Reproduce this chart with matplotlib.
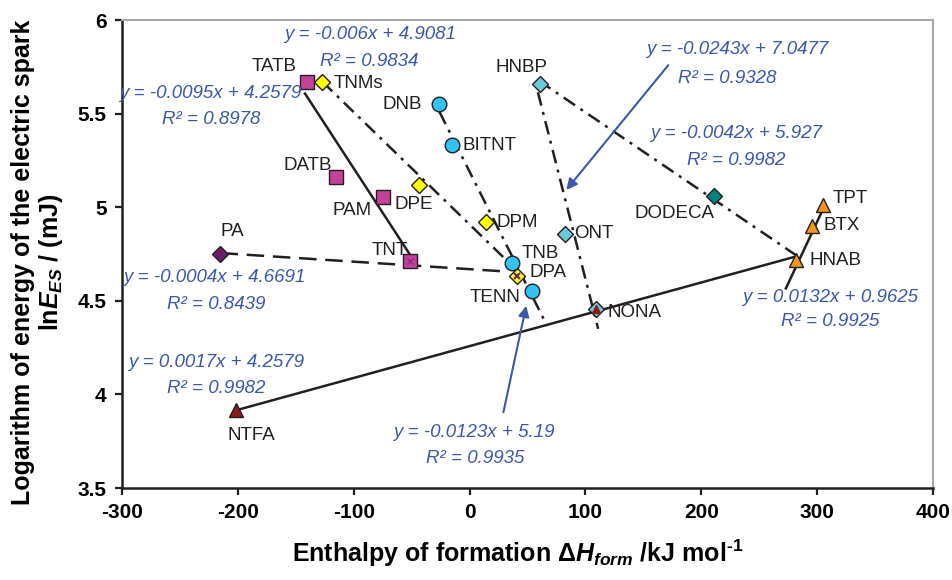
import numpy as np
import matplotlib
matplotlib.use("Agg")
import matplotlib.pyplot as plt
from matplotlib.ticker import FuncFormatter, MultipleLocator

"""data read off the picture"""

names = ["TATB", "DATB", "PAM", "TNT", "TNMs", "DPE", "DPM", "DPA", "DNB", "BITNT", "TNB",
         "TENN", "HNBP", "ONT", "NONA", "DODECA", "PA", "HNAB", "BTX", "TPT", "NTFA"]
dHf = [-140, -115, -75, -51, -127, -44, 14, 41, -26, -15, 37,
       54, 61, 82, 109, 211, -215, 282, 296, 305, -202]          # kJ/mol
lnE = [5.67, 5.16, 5.055, 4.713, 5.67, 5.12, 4.92, 4.63, 5.55, 5.33, 4.70,
       4.555, 5.658, 4.857, 4.456, 5.06, 4.75, 4.718, 4.90, 5.01, 3.917]
group = ["sq", "sq", "sq", "sq", "yd", "yd", "yd", "yd", "cc", "cc", "cc",
         "cc", "bd", "bd", "bd", "td", "pd", "ot", "ot", "ot", "rt"]

# small markers sitting inside some of the big ones
inner_names = ["TNT", "DPA", "NONA"]
inner_group = ["mx", "px", "rs"]

# trend lines: y = slope*x + icpt over [x_from, x_to]
slopes = [-0.0095, -0.006, -0.0123, -0.0243, -0.0042, -0.0004, 0.0017, 0.0132]
icpts = [4.2579, 4.9081, 5.19, 7.0477, 5.927, 4.6691, 4.2579, 0.9625]
r2 = [0.8978, 0.9834, 0.9935, 0.9328, 0.9982, 0.8439, 0.9982, 0.9925]
x_from = [-142, -127, -26, 59, 60, -215, -202, 273]
x_to = [-50, 42, 67, 111, 282, 28, 282, 306]


"""styles and positions"""
dashdot = (0, (5.5, 2.6, 1.2, 2.6))
dashed = (0, (7, 3.5))
line_styles = ["-", dashdot, dashdot, dashdot, dashdot, dashed, "-", "-"]

mk = {"sq": dict(marker="s", ms=10, mfc="#C4419B"),
      "yd": dict(marker="D", ms=7.8, mfc="#FFFF00"),
      "cc": dict(marker="o", ms=10.5, mfc="#33C3F0"),
      "bd": dict(marker="D", ms=7.8, mfc="#6CC9D9"),
      "td": dict(marker="D", ms=7.8, mfc="#00807F"),
      "pd": dict(marker="D", ms=7.8, mfc="#6B1F6B"),
      "ot": dict(marker="^", ms=10.5, mfc="#F7941D"),
      "rt": dict(marker="^", ms=10.5, mfc="#8B1A1A")}
inner_mk = {"mx": dict(marker="x", ms=4, mec="#8B2A8B", mew=1),
            "px": dict(marker="x", ms=4, mec="#6B1F8B", mew=1.5),
            "rs": dict(marker="^", ms=6, mfc="#8B1A1A", mec="#8B1A1A")}

# name label centres (data coords)
label_pos = {"TATB": (-169, 5.749), "TNMs": (-96, 5.663), "DATB": (-140, 5.225),
             "PAM": (-101, 4.985), "DPE": (-48, 5.012), "DNB": (-58, 5.551),
             "BITNT": (17.5, 5.332), "DPM": (41, 4.916), "TNB": (61, 4.755),
             "DPA": (68, 4.649), "TENN": (22, 4.520), "ONT": (107, 4.862),
             "NONA": (142, 4.435), "HNBP": (45, 5.744), "DODECA": (177, 4.969),
             "HNAB": (316, 4.713), "BTX": (321, 4.900), "TPT": (329, 5.049),
             "PA": (-205, 4.868), "TNT": (-69, 4.771), "NTFA": (-188, 3.783)}

# equation label centres (first line, R2 line) for each trend line
eq_pos = [((-224, 5.610), (-223, 5.466)),
          ((-86, 5.920), (-87, 5.776)),
          ((4, 3.799), (5, 3.660)),
          ((231, 5.840), (222, 5.690)),
          ((230, 5.396), (230, 5.252)),
          ((-220, 4.622), (-219, 4.478)),
          ((-219, 4.173), (-219, 4.034)),
          ((311, 4.520), (311, 4.387))]

blue = "#3C58A8"
ink = "#231F20"

plt.rcParams["font.family"] = ["Liberation Sans", "DejaVu Sans"]
plt.rcParams["axes.unicode_minus"] = False
plt.rcParams["mathtext.fontset"] = "custom"
plt.rcParams["mathtext.rm"] = "Liberation Sans:bold"
plt.rcParams["mathtext.it"] = "Liberation Sans:italic:bold"
plt.rcParams["mathtext.bf"] = "Liberation Sans:bold"

fig = plt.figure(figsize=(9.53, 5.8), dpi=100)
ax = fig.add_axes([0.128, 0.1586, 0.851, 0.8069])
ax.set_xlim(-300, 400)
ax.set_ylim(3.5, 6)

"""trend lines"""
for i in range(len(slopes)):
    xs = np.array([x_from[i], x_to[i]])
    ax.plot(xs, slopes[i] * xs + icpts[i], color=ink, lw=1.8,
            linestyle=line_styles[i], zorder=2)
    (ex, ey), (rx, ry) = eq_pos[i]
    ax.text(ex, ey, "y = %sx + %s" % (slopes[i], icpts[i]), color=blue,
            style="italic", fontsize=13.5, ha="center", va="center", zorder=5)
    ax.text(rx, ry, "R² = %s" % r2[i], color=blue, style="italic",
            fontsize=13.5, ha="center", va="center", zorder=5)

"""points"""
for n, x, y, g in zip(names, dHf, lnE, group):
    ax.plot(x, y, linestyle="none", mec=ink, mew=1, zorder=3, **mk[g])
    lx, ly = label_pos[n]
    ax.text(lx, ly, n, fontsize=13.5, color=ink, ha="center", va="center", zorder=5)

for n, g in zip(inner_names, inner_group):
    i = names.index(n)
    ax.plot(dHf[i], lnE[i], linestyle="none", zorder=4, **inner_mk[g])

"""arrows pointing to the equations"""
ax.annotate("", xy=(82, 5.081), xytext=(173, 5.770),
            arrowprops=dict(arrowstyle="-|>", color=blue, lw=1.5, mutation_scale=16))
ax.annotate("", xy=(49.4, 4.488), xytext=(28.7, 3.890),
            arrowprops=dict(arrowstyle="-|>", color=blue, lw=1.5, mutation_scale=16))

"""axes cosmetics"""
ax.xaxis.set_major_locator(MultipleLocator(100))
ax.yaxis.set_major_locator(MultipleLocator(0.5))
ax.yaxis.set_major_formatter(FuncFormatter(lambda v, p: "%g" % v))
ax.xaxis.set_major_formatter(FuncFormatter(lambda v, p: "%g" % v))
for s in ["left", "bottom"]:
    ax.spines[s].set_color(ink)
    ax.spines[s].set_linewidth(1.8)
for s in ["top", "right"]:
    ax.spines[s].set_color("#A8A8A8")
    ax.spines[s].set_linewidth(1.5)
ax.tick_params(direction="out", length=5, width=1.6, color=ink, labelsize=15, pad=6)
for t in ax.get_xticklabels() + ax.get_yticklabels():
    t.set_fontweight("bold")

fig.text(38 / 953, 1 - 262 / 580,
         "Logarithm of energy of the electric spark\nln$E_{ES}$ / (mJ)",
         rotation=90, ha="center", va="center", multialignment="center",
         fontsize=18, fontweight="bold", linespacing=1.1)
fig.text(518 / 953, 1 - 553 / 580,
         "Enthalpy of formation $\\mathit{\u0394H}_{form}$ /kJ mol$^{\\text{-1}}$",
         ha="center", va="center", fontsize=18, fontweight="bold")

fig.savefig("out.png", dpi=100)
